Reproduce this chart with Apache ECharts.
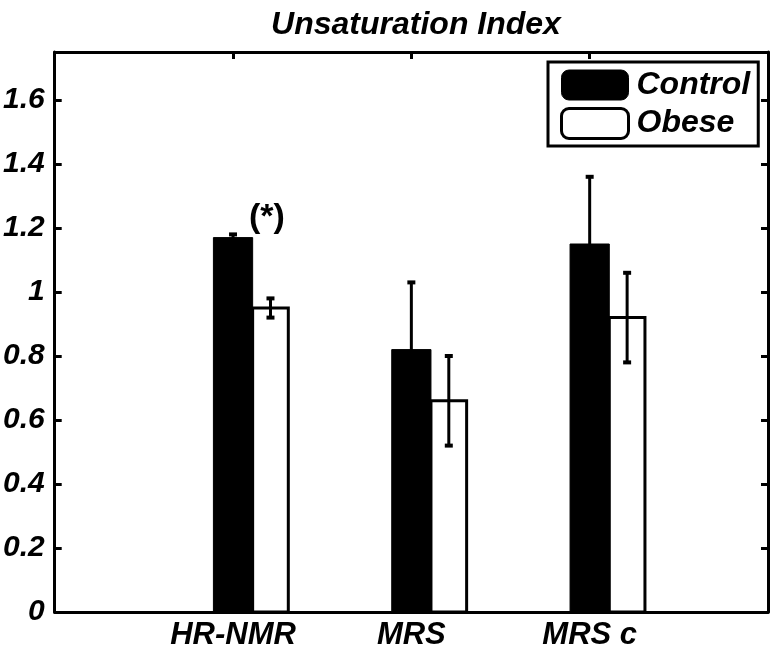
<!DOCTYPE html>
<html>
<head>
<meta charset="utf-8">
<script src="https://cdn.jsdelivr.net/npm/echarts@6/dist/echarts.min.js"></script>
<style>html,body{margin:0;padding:0;background:#fff}#chart{width:775px;height:653px}</style>
</head>
<body>
<div id="chart"></div>
<script>
const categories = ['HR-NMR', 'MRS', 'MRS c'];
const controlMean = [1.17, 0.82, 1.15];
const controlErr = [0.01, 0.21, 0.21];
const obeseMean = [0.95, 0.66, 0.92];
const obeseErr = [0.03, 0.14, 0.14];
const annotationText = '(*)';
const annotationPoint = [1.19, 1.233];

const FONT = '"Liberation Sans", Arial, Helvetica, sans-serif';

function makeRender(off0, off1, fill) {
  return function (params, api) {
    const x = api.value(0), v = api.value(1), e = api.value(2);
    const p0 = api.coord([x + off0, 0]);
    const p1 = api.coord([x + off1, v]);
    const cx = api.coord([x + (off0 + off1) / 2, v])[0];
    const yHi = api.coord([x, v + e])[1];
    const yLo = api.coord([x, v - e])[1];
    const children = [{
      type: 'rect',
      shape: { x: p0[0], y: p1[1], width: p1[0] - p0[0], height: p0[1] - p1[1] },
      style: { fill: fill, stroke: '#000', lineWidth: fill === '#000' ? 1 : 3 }
    }, {
      type: 'line', shape: { x1: cx, y1: yHi, x2: cx, y2: yLo },
      style: { stroke: '#000', lineWidth: 3 }
    }, {
      type: 'line', shape: { x1: cx - 4, y1: yHi, x2: cx + 4, y2: yHi },
      style: { stroke: '#000', lineWidth: 4 }
    }, {
      type: 'line', shape: { x1: cx - 4, y1: yLo, x2: cx + 4, y2: yLo },
      style: { stroke: '#000', lineWidth: 4 }
    }];
    return { type: 'group', children: children };
  };
}

const chart = echarts.init(document.getElementById('chart'), null, { renderer: 'canvas' });
const labelStyle = { fontFamily: FONT, fontWeight: 'bold', fontStyle: 'italic', color: '#000' };
const tickStyle = { show: true, inside: true, length: 7, lineStyle: { color: '#000', width: 3 } };
const lineStyle = { show: true, onZero: false, lineStyle: { color: '#000', width: 3 } };
chart.setOption({
  animation: false,
  backgroundColor: '#fff',
  title: {
    text: 'Unsaturation Index', left: 411, top: 4, textAlign: 'center',
    textStyle: Object.assign({ fontSize: 32 }, labelStyle)
  },
  legend: {
    orient: 'vertical', left: 548, top: 62,
    backgroundColor: '#fff', borderColor: '#000', borderWidth: 3, borderRadius: 0,
    padding: [7, 8, 6, 12], itemGap: 6, itemWidth: 67, itemHeight: 30,
    textStyle: Object.assign({ fontSize: 32, lineHeight: 32, padding: [0, 0, 0, 3] }, labelStyle),
    data: [
      { name: 'Control', icon: 'roundRect', itemStyle: { color: '#000', borderColor: '#000', borderWidth: 1 } },
      { name: 'Obese', icon: 'roundRect', itemStyle: { color: '#fff', borderColor: '#000', borderWidth: 3 } }
    ]
  },
  grid: { left: 53, right: 7, top: 52, bottom: 41 },
  xAxis: [{
    type: 'value', min: 0, max: 4, interval: 1, position: 'bottom',
    axisLine: lineStyle, axisTick: tickStyle, splitLine: { show: false },
    axisLabel: Object.assign({
      fontSize: 31, margin: 8,
      formatter: v => (v >= 1 && v <= categories.length && Number.isInteger(v)) ? categories[v - 1] : ''
    }, labelStyle)
  }, {
    type: 'value', min: 0, max: 4, interval: 1, position: 'top',
    axisLine: lineStyle, axisTick: tickStyle, splitLine: { show: false }, axisLabel: { show: false }
  }],
  yAxis: [{
    type: 'value', min: 0, max: 1.75, interval: 0.2, position: 'left',
    axisLine: lineStyle, axisTick: tickStyle, splitLine: { show: false },
    axisLabel: Object.assign({ fontSize: 30, margin: 10, showMaxLabel: false }, labelStyle)
  }, {
    type: 'value', min: 0, max: 1.75, interval: 0.2, position: 'right',
    axisLine: lineStyle, axisTick: tickStyle, splitLine: { show: false }, axisLabel: { show: false }
  }],
  series: [{
    name: 'Control', type: 'custom', xAxisIndex: 0, yAxisIndex: 0,
    itemStyle: { color: '#000' },
    renderItem: makeRender(-0.11, 0.11, '#000'),
    encode: { x: 0, y: 1 },
    data: controlMean.map((v, i) => [i + 1, v, controlErr[i]]),
    z: 2
  }, {
    name: 'Obese', type: 'custom', xAxisIndex: 0, yAxisIndex: 0,
    itemStyle: { color: '#fff', borderColor: '#000' },
    renderItem: makeRender(0.11, 0.31, '#fff'),
    encode: { x: 0, y: 1 },
    data: obeseMean.map((v, i) => [i + 1, v, obeseErr[i]]),
    z: 3
  }, {
    name: 'annot', type: 'scatter', xAxisIndex: 0, yAxisIndex: 0,
    symbolSize: 0, silent: true,
    itemStyle: { opacity: 1 },
    data: [annotationPoint],
    label: {
      show: true, position: 'inside', formatter: annotationText,
      fontFamily: FONT, fontWeight: 'bold', fontSize: 34, color: '#000', opacity: 1
    }
  }, {
    name: 'frame', type: 'scatter', xAxisIndex: 1, yAxisIndex: 1,
    symbolSize: 0, silent: true, data: [[4, 1.75]]
  }]
});
</script>
</body>
</html>
